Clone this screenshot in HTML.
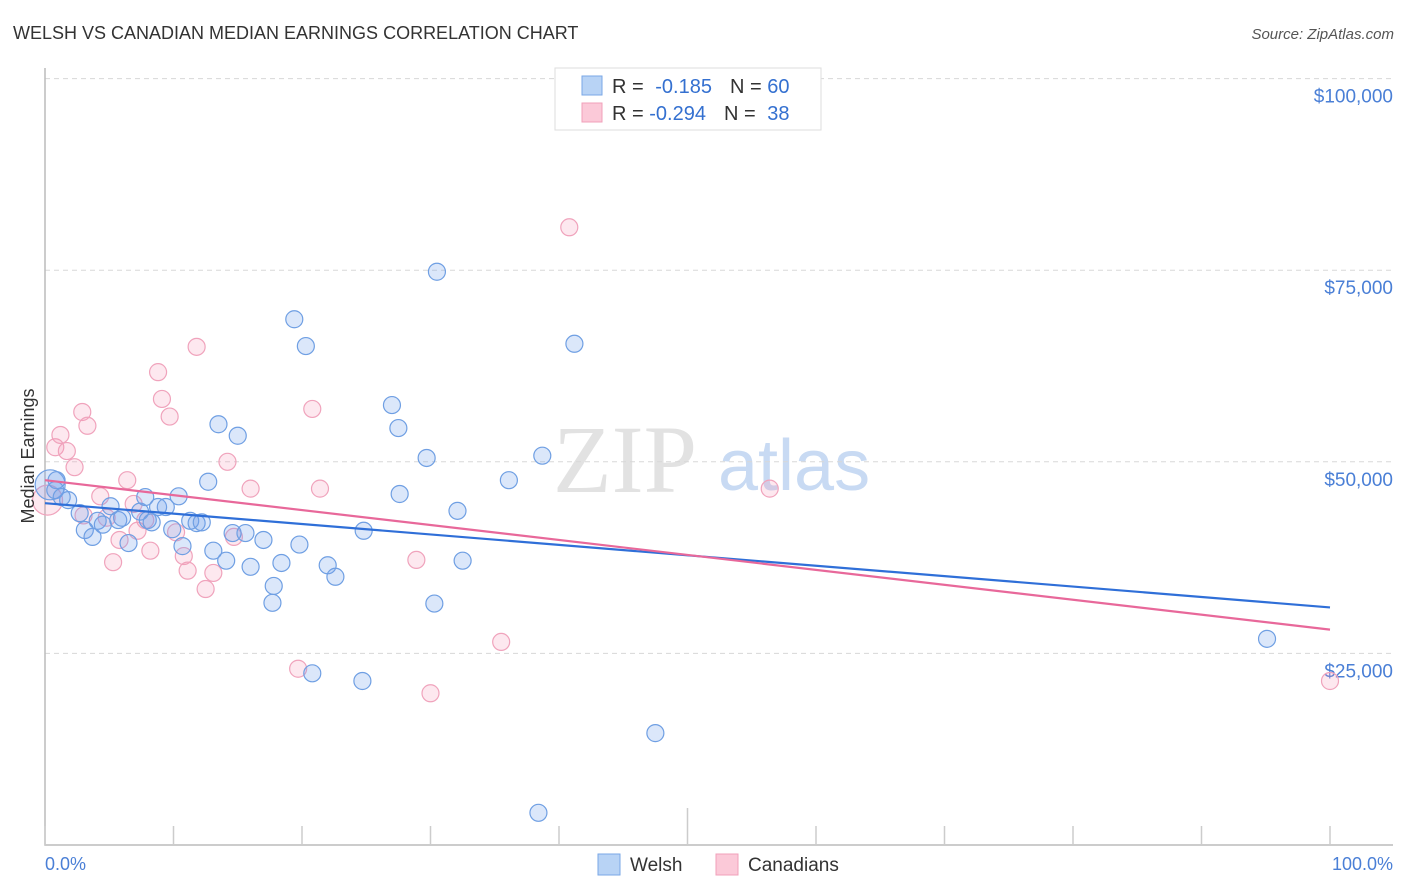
<!DOCTYPE html>
<html><head><meta charset="utf-8"><style>
body{margin:0;background:#fff;font-family:"Liberation Sans",sans-serif}
svg{display:block}
</style></head><body>
<svg id="chart" width="1406" height="892" xmlns="http://www.w3.org/2000/svg">
<text x="13" y="39" font-size="18" fill="#333">WELSH VS CANADIAN MEDIAN EARNINGS CORRELATION CHART</text>
<text x="1394" y="39" font-size="15" fill="#555" font-style="italic" text-anchor="end">Source: ZipAtlas.com</text>
<g>
<text x="553" y="492" font-size="96" font-family="Liberation Serif,serif" fill="#e2e2e2">ZIP</text>
<text x="718" y="490" font-size="72" fill="#c8daf3">atlas</text>
</g>
<g id="grid"></g>
<g id="axes"></g>
<g id="pts"></g>
<g id="trend"></g>
<g>
<rect x="555" y="68" width="266" height="62" fill="#fff" stroke="#ddd"/>
<rect x="582" y="76" width="20" height="19" fill="#b8d3f5" stroke="#7aa7e6"/>
<rect x="582" y="103" width="20" height="19" fill="#fbc9d8" stroke="#f0a0ba"/>
<text x="612" y="93" font-size="20" fill="#333">R = <tspan fill="#3470d0" dx="6">-0.185</tspan><tspan fill="#333" dx="18">N = </tspan><tspan fill="#3470d0">60</tspan></text>
<text x="612" y="120" font-size="20" fill="#333">R = <tspan fill="#3470d0">-0.294</tspan><tspan fill="#333" dx="18">N = </tspan><tspan fill="#3470d0" dx="6">38</tspan></text>
</g>
<g>
<rect x="598" y="854" width="22" height="21" fill="#b8d3f5" stroke="#7aa7e6"/>
<text x="630" y="871" font-size="19" fill="#333">Welsh</text>
<rect x="716" y="854" width="22" height="21" fill="#fbc9d8" stroke="#f0a0ba"/>
<text x="748" y="871" font-size="19" fill="#333">Canadians</text>
</g>
<text x="45" y="870" font-size="18" fill="#4a7fd6">0.0%</text>
<text x="1393" y="870" font-size="18" fill="#4a7fd6" text-anchor="end">100.0%</text>
<text transform="translate(34,456) rotate(-90)" font-size="18" fill="#333" text-anchor="middle">Median Earnings</text>
</svg>
<script>
const welshX=[0.4,0.9,0.8,1.8,1.3,2.7,3.1,3.7,4.1,4.5,5.1,5.7,6.0,6.5,7.4,7.8,8.0,8.3,8.8,9.4,9.9,10.4,10.7,11.3,11.8,12.2,12.7,13.1,13.5,14.1,14.6,15.0,15.6,16.0,17.0,17.7,17.8,18.4,19.4,19.8,20.3,20.8,22.0,22.6,24.7,24.8,27.0,27.5,27.6,29.7,30.3,30.5,32.1,32.5,36.1,38.4,38.7,41.2,47.5,95.1];
const welshY=[47000,47600,46300,45000,45400,43300,41100,40200,42300,41800,44200,42400,42700,39400,43500,45400,42400,42100,44100,44100,41200,45500,39000,42300,42000,42100,47400,38400,54900,37100,40700,53400,40700,36300,39800,31600,33800,36800,68600,39200,65100,22400,36500,35000,21400,41000,57400,54400,45800,50500,31500,74800,43600,37100,47600,4200,50800,65400,14600,26900];
const canX=[0.2,0.8,1.2,1.7,2.3,2.9,3.3,4.3,4.8,5.3,5.8,6.4,6.9,7.2,7.8,8.2,8.8,9.1,9.7,10.2,10.8,11.1,11.8,12.5,13.1,14.2,14.7,16.0,19.7,20.8,21.4,28.9,30.0,35.5,40.8,56.4,100,3.0];
const canY=[45000,51900,53500,51400,49300,56500,54700,45500,42700,36900,39800,47600,44500,41000,42400,38400,61700,58200,55900,40800,37700,35800,65000,33400,35500,50000,40200,46500,23000,56900,46500,37200,19800,26500,80600,46500,21400,43000];
const yTicks=[25000,50000,75000,100000];
const yTickLabels=["$25,000","$50,000","$75,000","$100,000"];
const trendWelsh=[44600,31000];
const trendCan=[47600,28100];
const NS="http://www.w3.org/2000/svg";
const X0=45,X1=1330,Y0=845,PPV=191.6/25000;
const sx=p=>X0+(X1-X0)*p/100, sy=v=>Y0-v*PPV;
function mk(tag,attrs,parent){const e=document.createElementNS(NS,tag);for(const k in attrs)e.setAttribute(k,attrs[k]);document.getElementById(parent).appendChild(e);return e;}
yTicks.forEach((v,i)=>{
  const g=mk('line',{x1:X0,x2:1393,y1:sy(v),y2:sy(v),stroke:'#d8d8d8','stroke-dasharray':'5,4'},'grid');
  
  
  const t=mk('text',{x:1393,y:sy(v)+24,'font-size':19,fill:'#4a7fd6','text-anchor':'end'},'grid');
  t.textContent=yTickLabels[i];
  
  
});
const ax=mk('path',{d:`M${X0},68V${Y0}H1393`,stroke:'#bbb',fill:'none','stroke-width':1.5},'axes');


for(let i=0;i<=10;i++){
  const x=sx(i*10);
  const t=mk('line',{x1:x,x2:x,y1:i==5?808:826,y2:Y0,stroke:'#ccc','stroke-width':1.5},'axes');
  
  
}
function pts(xs,ys,fill,stroke,name){
  xs.forEach((p,i)=>{
    const big=i===0;
    const c=mk('circle',{cx:sx(p),cy:sy(ys[i]),r:big?15:8.5,fill:fill,stroke:stroke,'stroke-width':1.2},'pts');
    
    
  });
}
pts(canX,canY,'rgba(245,150,180,0.22)','#f0a3bc','canadians-point');
pts(welshX,welshY,'rgba(110,160,235,0.25)','#6f9fe3','welsh-point');
const l1=mk('line',{x1:sx(0),y1:sy(trendWelsh[0]),x2:sx(100),y2:sy(trendWelsh[1]),stroke:'#2f6fd8','stroke-width':2.2},'trend');


const l2=mk('line',{x1:sx(0),y1:sy(trendCan[0]),x2:sx(100),y2:sy(trendCan[1]),stroke:'#e8689a','stroke-width':2.2},'trend');


</script>
</body></html>
